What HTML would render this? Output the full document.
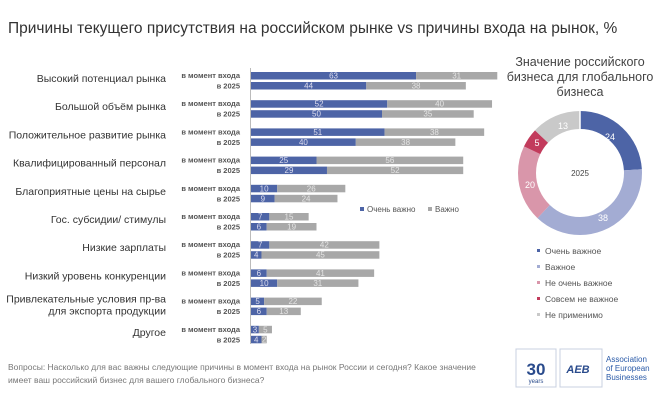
<!DOCTYPE html>
<html><head><meta charset="utf-8"><style>
body{margin:0;background:#fff;}
svg{font-family:"Liberation Sans",sans-serif;}
</style></head><body>
<svg width="663" height="400" viewBox="0 0 663 400" xmlns="http://www.w3.org/2000/svg">
<text x="8" y="33" font-size="15.5" fill="#333">Причины текущего присутствия на российском рынке vs причины входа на рынок, %</text>
<line x1="250.5" y1="68" x2="250.5" y2="344" stroke="#bbb" stroke-width="1"/>
<g id="bars"></g>
<g font-size="8" fill="#555">
<rect x="360" y="207" width="4" height="4" fill="#4d64a6"/><text x="367" y="212">Очень важно</text>
<rect x="428" y="207" width="4" height="4" fill="#a8a8a8"/><text x="435" y="212">Важно</text>
</g>
<text x="8" y="370" font-size="8.5" fill="#777">Вопросы: Насколько для вас важны следующие причины в момент входа на рынок России и сегодня? Какое значение</text>
<text x="8" y="383" font-size="8.5" fill="#777">имеет ваш российский бизнес для вашего глобального бизнеса?</text>
<g font-size="12.5" fill="#444" text-anchor="middle">
<text x="580" y="66">Значение российского</text>
<text x="580" y="81">бизнеса для глобального</text>
<text x="580" y="96">бизнеса</text>
</g>
<g transform="rotate(-90 580 173)" fill="none" stroke-width="18">
<circle cx="580" cy="173" r="53" stroke="#4d64a6" stroke-dasharray="79.9 333" stroke-dashoffset="0"/>
<circle cx="580" cy="173" r="53" stroke="#a3acd3" stroke-dasharray="126.5 333" stroke-dashoffset="-79.9"/>
<circle cx="580" cy="173" r="53" stroke="#d996aa" stroke-dasharray="66.6 333" stroke-dashoffset="-206.4"/>
<circle cx="580" cy="173" r="53" stroke="#c23b5c" stroke-dasharray="16.7 333" stroke-dashoffset="-273"/>
<circle cx="580" cy="173" r="53" stroke="#c9c9c9" stroke-dasharray="43.3 333" stroke-dashoffset="-289.7"/>
</g>
<g stroke="#fff" stroke-width="1.5">
<line x1="580" y1="111" x2="580" y2="129"/>
</g>
<g font-size="9" fill="#fff" text-anchor="middle">
<text x="610" y="140">24</text><text x="603" y="221">38</text><text x="530" y="188">20</text><text x="537" y="146">5</text><text x="563" y="129">13</text>
</g>
<text x="580" y="176" font-size="8" fill="#444" text-anchor="middle">2025</text>
<g font-size="8.5" fill="#555">
<rect x="537" y="249" width="3" height="3" fill="#4d64a6"/><text x="545" y="254">Очень важное</text>
<rect x="537" y="265" width="3" height="3" fill="#a3acd3"/><text x="545" y="270">Важное</text>
<rect x="537" y="281" width="3" height="3" fill="#d996aa"/><text x="545" y="286">Не очень важное</text>
<rect x="537" y="297" width="3" height="3" fill="#c23b5c"/><text x="545" y="302">Совсем не важное</text>
<rect x="537" y="313" width="3" height="3" fill="#c9c9c9"/><text x="545" y="318">Не применимо</text>
</g>
<g>
<rect x="516" y="349" width="40" height="38" fill="none" stroke="#c8d0e0"/>
<text x="536" y="375" font-size="17" font-weight="bold" fill="#2a4b8c" text-anchor="middle">30</text>
<text x="536" y="383" font-size="6" fill="#2a4b8c" text-anchor="middle">years</text>
<rect x="560" y="349" width="42" height="38" fill="none" stroke="#c8d0e0"/>
<text x="578" y="373" font-size="11" font-weight="bold" font-style="italic" fill="#2a4b8c" text-anchor="middle">AEB</text>
<g font-size="8" fill="#2a5aa8"><text x="606" y="362">Association</text><text x="606" y="371">of European</text><text x="606" y="380">Businesses</text></g>
</g>
</svg>
<script>
var d=[["Высокий потенциал рынка",63,31,44,38],["Большой объём рынка",52,40,50,35],["Положительное развитие рынка",51,38,40,38],["Квалифицированный персонал",25,56,29,52],["Благоприятные цены на сырье",10,26,9,24],["Гос. субсидии/ стимулы",7,15,6,19],["Низкие зарплаты",7,42,4,45],["Низкий уровень конкуренции",6,41,10,31],["Привлекательные условия пр-ва|для экспорта продукции",5,22,6,13],["Другое",3,5,4,2]];
var s="",k=2.62,ns="http://www.w3.org/2000/svg";
d.forEach(function(r,i){var y=72+i*28.2;var lab=r[0].split("|");
if(lab.length==1)s+='<text x="166" y="'+(y+10)+'" font-size="10.5" fill="#333" text-anchor="end">'+lab[0]+'</text>';
else{s+='<text x="166" y="'+(y+5)+'" font-size="10.5" fill="#333" text-anchor="end">'+lab[0]+'</text><text x="166" y="'+(y+17)+'" font-size="10.5" fill="#333" text-anchor="end">'+lab[1]+'</text>';}
s+='<text x="240" y="'+(y+6)+'" font-size="7.5" font-weight="bold" fill="#555" text-anchor="end">в момент входа</text>';
s+='<text x="240" y="'+(y+16.5)+'" font-size="7.5" font-weight="bold" fill="#555" text-anchor="end">в 2025</text>';
[[r[1],r[2],y],[r[3],r[4],y+10]].forEach(function(b){var w1=b[0]*k,w2=b[1]*k;
s+='<rect x="251" y="'+b[2]+'" width="'+w1+'" height="7.5" fill="#4d64a6"/>';
s+='<rect x="'+(251+w1)+'" y="'+b[2]+'" width="'+w2+'" height="7.5" fill="#a8a8a8"/>';
s+='<text x="'+(251+w1/2)+'" y="'+(b[2]+6.5)+'" font-size="8" fill="#dde" text-anchor="middle">'+b[0]+'</text>';
s+='<text x="'+(251+w1+w2/2)+'" y="'+(b[2]+6.5)+'" font-size="8" fill="#e4e4e4" text-anchor="middle">'+b[1]+'</text>';});});
var g=document.getElementById("bars");var t=new DOMParser().parseFromString('<svg xmlns="'+ns+'">'+s+'</svg>',"image/svg+xml").documentElement;
while(t.firstChild)g.appendChild(document.importNode(t.firstChild,true)),t.removeChild(t.firstChild);
</script>
</body></html>
